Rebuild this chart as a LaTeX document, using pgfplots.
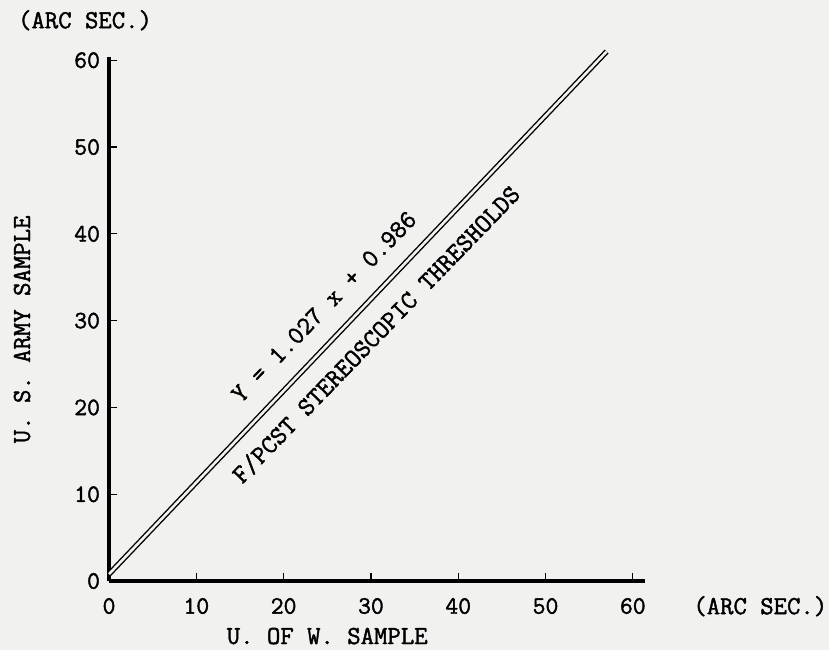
\documentclass[border=0pt]{standalone}
\usepackage{pgfplots}
\pgfplotsset{compat=1.18}
\usepackage{fontspec}
\newfontfamily\tw{Latin Modern Mono}[BoldFont={Latin Modern Mono}, BoldFeatures={FakeBold=1.6}]
\definecolor{bg}{RGB}{241,241,240}
\newcommand\tf[1]{\fontsize{#1}{#1}\selectfont\tw\bfseries}
\begin{document}
\begin{tikzpicture}
\fill[bg] (-54.52pt,-34.50pt) rectangle (359.98pt,290.52pt);
\begin{axis}[
  x=4.365pt, y=4.34pt,
  xmin=0, xmax=61.4, ymin=0, ymax=60.4,
  axis lines=left,
  x axis line style={-, line width=1.6pt},
  y axis line style={-, line width=2.2pt},
  xtick={0,10,20,30,40,50,60},
  ytick={0,10,20,30,40,50,60},
  tick align=inside,
  major tick length=4pt,
  tick style={black, line width=0.6pt},
  /pgf/number format/assume math mode=true,
  ticklabel style={font=\tf{12.5}},
  xticklabel style={yshift=-5pt},
  yticklabel style={xshift=-1pt},
  clip=false,
  xlabel={U. OF W. SAMPLE},
  ylabel={U. S. ARMY SAMPLE},
  every axis x label/.style={at={([yshift=-27.5pt]axis description cs:0.407,0)}, anchor=center, font=\tf{13}},
  every axis y label/.style={at={([xshift=-43.5pt]axis description cs:0,0.48)}, anchor=center, rotate=90, font=\tf{13}},
]
\addplot[black, line width=0.7pt, double=bg, double distance=1.3pt] coordinates {(0,0.8) (57,61)};
\node[font=\tf{13}, rotate=46] at (axis cs:24.6,31.6) {Y = 1.027 x + 0.986};
\node[font=\tf{13}, rotate=46] at (axis cs:30.6,28.4) {F/PCST STEREOSCOPIC THRESHOLDS};
\node[font=\tf{13}] at (axis cs:-2.75,64.6) {(ARC SEC.)};
\node[font=\tf{13}] at (axis cs:74.6,-2.9) {(ARC SEC.)};
\end{axis}
\pgfresetboundingbox
\path (-54.52pt,-34.50pt) rectangle (359.98pt,290.52pt);
\end{tikzpicture}
\end{document}
